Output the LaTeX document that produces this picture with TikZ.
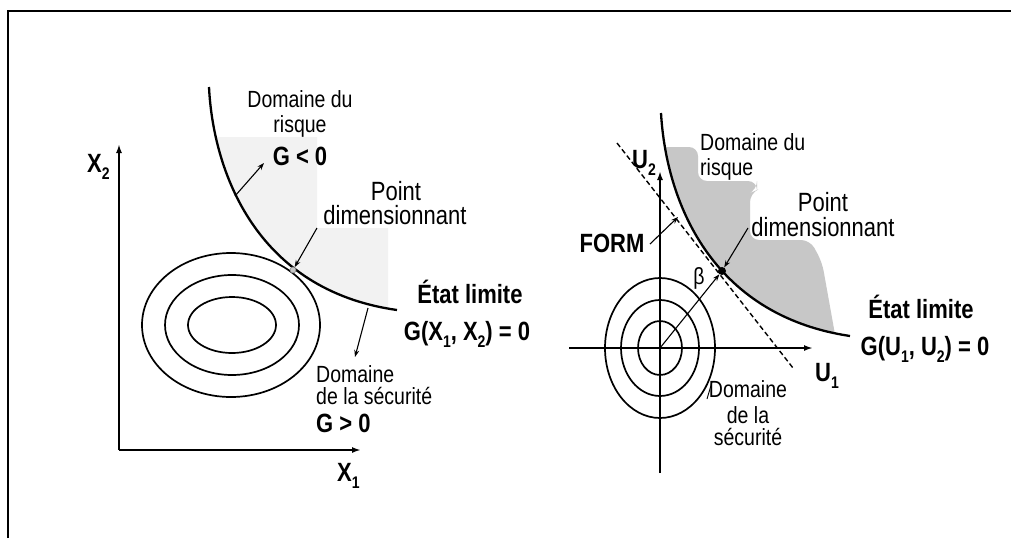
\documentclass[tikz,border=0pt]{standalone}
\usepackage{fontspec}
\setmainfont{Liberation Sans}
\usetikzlibrary{arrows.meta}
\newcommand\sbs[1]{\raisebox{-0.3em}{\fontsize{14}{14}\selectfont #1}}
\newcommand\stt[1]{\scalebox{1}[1.2]{#1}}
\definecolor{lightshade}{gray}{0.95}
\definecolor{darkshade}{gray}{0.78}
\tikzset{
  lbl/.style={inner sep=0pt, font=\fontsize{19.5}{22}\selectfont},
  bigl/.style={inner sep=0pt, font=\fontsize{22}{24}\selectfont},
  bl/.style={inner sep=0pt, font=\fontsize{22}{24}\selectfont\bfseries},
  limcurve/.style={line width=2.3pt},
  contour/.style={line width=1.7pt},
  axisline/.style={line width=1.9pt, -{Latex[length=9pt,width=6pt]}},
  ptr/.style={line width=1.1pt, -{Stealth[length=7pt,width=5pt]}},
  formline/.style={line width=1.4pt, dash pattern=on 5pt off 3pt},
  frameline/.style={line width=2.2pt},
}
\begin{document}
\begin{tikzpicture}[x=1pt,y=-1pt]
\useasboundingbox (0,0) rectangle (1011,538);
\fill[white] (0,0) rectangle (1011,538);
% frame
\coordinate (fa) at (8,538);
\coordinate (fb) at (8,11);
\coordinate (fc) at (1011,11);
\draw[frameline] (fa) -- (fb) -- (fc);

\def\leftcurve{(209,87) .. controls (213,170) and (255,290) .. (397,310)}
\def\rightcurve{(661,113) .. controls (666,200) and (710,315) .. (850,336)}

% shaded domains
\begin{scope}
  \clip \leftcurve -- (420,330) -- (420,60) -- cycle;
  \fill[lightshade] (150,137) -- (317,137) -- (317,228) -- (388,228) -- (388,320) -- (150,320) -- cycle;
\end{scope}
\begin{scope}
  \clip \rightcurve -- (1000,340) -- (1000,90) -- cycle;
  \fill[darkshade, rounded corners=9pt] (600,147) -- (698,147) -- (698,181) -- (757,181) -- (757,190) -- (750,193) -- (750,240) -- (810,240) -- (822,262) -- (836,340) -- (600,340) -- cycle;
\end{scope}

% ---------- left panel ----------
\coordinate (oL) at (119,450);
\coordinate (x1end) at (361,450);
\coordinate (x2end) at (119,144);
\draw[axisline] (oL) -- (x1end);
\draw[axisline] (oL) -- (x2end);
\node[bl, anchor=base west] (x2lab) at (87,172) {\stt{X\sbs{2}}};
\node[bl, anchor=base west] (x1lab) at (337,481) {\stt{X\sbs{1}}};

\draw[contour] (232,325) ellipse [x radius=44, y radius=28];
\draw[contour] (232,325) ellipse [x radius=67, y radius=50];
\draw[contour] (231,325) ellipse [x radius=89, y radius=72];

\draw[limcurve] \leftcurve;
\node[circle, fill=gray!45, draw=gray, line width=0.6pt, inner sep=0pt, minimum size=6pt] (tpL) at (293,270) {};

\node[lbl, anchor=base] (drL1) at (300,107) {\stt{Domaine du}};
\node[lbl, anchor=base] (drL2) at (300,132) {\stt{risque}};
\node[bl, anchor=base] (gneg) at (300,165) {\stt{G < 0}};
\node[bigl, anchor=base] (pL1) at (396,200) {\stt{Point}};
\node[bigl, anchor=base] (pL2) at (395,224) {\stt{dimensionnant}};
\node[bl, anchor=base] (eL) at (470,303) {\stt{État limite}};
\node[bl, anchor=base] (gxL) at (467,340) {\stt{G(X\sbs{1}, X\sbs{2}) = 0}};
\node[lbl, anchor=base west] (sL1) at (316,382) {\stt{Domaine}};
\node[lbl, anchor=base west] (sL2) at (316,404) {\stt{de la sécurité}};
\node[bl, anchor=base west] (gpos) at (316,432) {\stt{G > 0}};

\coordinate (cL1) at (235,196);
\coordinate (cL1t) at (264,163);
\draw[ptr] (cL1) -- (cL1t);
\coordinate (pLs) at (317,228);
\draw[ptr] (pLs) -- (tpL);
\coordinate (cL2) at (368,308);
\coordinate (cL2t) at (355,357);
\draw[ptr] (cL2) -- (cL2t);

% ---------- right panel ----------
\coordinate (oR) at (660,348);
\coordinate (u1s) at (569,348);
\coordinate (u1e) at (813,348);
\coordinate (u2s) at (660,473);
\coordinate (u2e) at (660,171);
\draw[axisline] (u1s) -- (u1e);
\draw[axisline] (u2s) -- (u2e);

\draw[contour] (oR) ellipse [x radius=22, y radius=27];
\draw[contour] (oR) ellipse [x radius=39, y radius=48];
\draw[contour] (oR) ellipse [x radius=55, y radius=70];

\coordinate (fs) at (617,143);
\coordinate (fe) at (793,368);
\draw[formline] (fs) -- (fe);

\draw[limcurve] \rightcurve;
\node[circle, fill=black, inner sep=0pt, minimum size=8pt] (dpR) at (722,271) {};
\draw[ptr] (oR) -- (dpR);

\node[bl, anchor=base west] (u2lab) at (632,168) {\stt{U\sbs{2}}};
\node[bl, anchor=base west] (u1lab) at (815,381) {\stt{U\sbs{1}}};
\node[lbl, anchor=base west] (drR1) at (700,150) {\stt{Domaine du}};
\node[lbl, anchor=base west] (drR2) at (700,175) {\stt{risque}};
\node[bigl, anchor=base] (pR1) at (823,211) {\stt{Point}};
\node[bigl, anchor=base] (pR2) at (823,236) {\stt{dimensionnant}};
\node[bl, anchor=base] (formlab) at (612,252) {\stt{FORM}};
\node[lbl, anchor=base] (beta) at (699,284) {\stt{β}};
\node[bl, anchor=base] (eR) at (921,318) {\stt{État limite}};
\node[bl, anchor=base] (gR) at (925,355) {\stt{G(U\sbs{1}, U\sbs{2}) = 0}};
\node[lbl, anchor=base] (sR1) at (748,397) {\stt{Domaine}};
\node[lbl, anchor=base] (sR2) at (748,423) {\stt{de la}};
\node[lbl, anchor=base] (sR3) at (748,445) {\stt{sécurité}};

\coordinate (pRs) at (748,228);
\draw[ptr] (pRs) -- (dpR);
\coordinate (fms) at (650,244);
\coordinate (fmt) at (678,217);
\draw[ptr] (fms) -- (fmt);
\coordinate (lda) at (707,399);
\coordinate (ldb) at (712,382);
\draw[line width=0.9pt] (lda) -- (ldb);
\end{tikzpicture}
\end{document}
